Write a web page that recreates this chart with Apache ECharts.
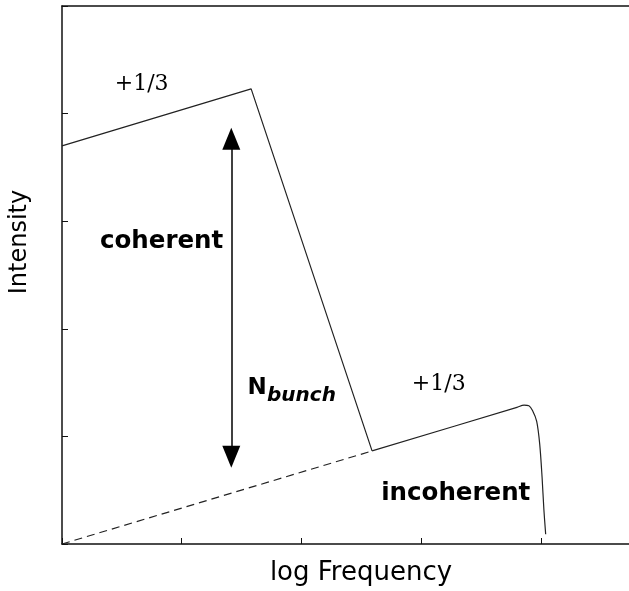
<!DOCTYPE html>
<html>
<head>
<meta charset="utf-8">
<script src="https://cdn.jsdelivr.net/npm/echarts@6/dist/echarts.min.js"></script>
<style>html,body{margin:0;padding:0;background:#fff}#c{width:629px;height:591px}</style>
</head>
<body>
<div id="c"></div>
<script>
// ---- data (x = log frequency units, y = intensity units) ----
var xMin = 0, xMax = 4.736, xStep = 1;
var yMin = 0, yMax = 5, yStep = 1;
var coherent = [[0, 3.70], [1.58, 4.23], [2.59, 0.865]];
var incoherentDashed = [[0, 0], [2.59, 0.865]];
var incoherentSolid = [[2.59, 0.865], [3.80, 1.27], [3.86, 1.29], [3.90, 1.285], [3.93, 1.24], [3.965, 1.14], [3.99, 0.93], [4.01, 0.62], [4.025, 0.32], [4.04, 0.09]];
var arrowEnds = [[1.414, 3.767], [1.414, 0.81]];
var labelsPlain = [
  {text: '+1/3', pos: [0.665, 4.27], kind: 'serif'},
  {text: '+1/3', pos: [3.147, 1.48], kind: 'serif'},
  {text: 'coherent', pos: [0.832, 2.81], kind: 'bold'},
  {text: 'incoherent', pos: [3.289, 0.465], kind: 'bold'}
];
var labelN = {text: 'N', pos: [1.63, 1.45]};
var labelSub = {text: 'bunch', pos: [2.0, 1.38]};

var chart = echarts.init(document.getElementById('c'), null, {renderer: 'canvas'});
var lineStyleThin = {color: '#222', width: 1.2};
var styles = {
  serif: {fontFamily: 'DejaVu Serif', fontSize: 22, color: '#000'},
  bold: {fontFamily: 'DejaVu Sans', fontWeight: 'bold', fontSize: 24.5, color: '#000'}
};
function textSeries(pos, label) {
  return {
    type: 'scatter', symbolSize: 0, silent: true, itemStyle: {opacity: 1},
    data: [pos],
    label: Object.assign({show: true, position: 'inside', align: 'center', verticalAlign: 'middle', opacity: 1, textBorderWidth: 0}, label)
  };
}
var texts = labelsPlain.map(function (l) {
  return textSeries(l.pos, Object.assign({formatter: l.text}, styles[l.kind]));
});
texts.push(textSeries(labelN.pos, {formatter: labelN.text, fontFamily: 'DejaVu Sans', fontWeight: 'bold', fontSize: 23, color: '#000'}));
texts.push(textSeries(labelSub.pos, {formatter: labelSub.text, fontFamily: 'DejaVu Sans', fontWeight: 'bold', fontStyle: 'italic', fontSize: 20, color: '#000'}));

chart.setOption({
  animation: false,
  backgroundColor: '#fff',
  grid: {left: 62, top: 6, bottom: 46, right: 0, show: false},
  xAxis: [{
    type: 'value', min: xMin, max: xMax, interval: xStep,
    name: 'log Frequency', nameLocation: 'middle', nameGap: 16,
    nameTextStyle: {fontFamily: 'DejaVu Sans', fontSize: 26, color: '#000', padding: [0, 0, 0, 31]},
    axisLine: {lineStyle: {color: '#111', width: 1.5}},
    axisTick: {inside: true, length: 6, lineStyle: {color: '#111', width: 1}},
    axisLabel: {show: false}, splitLine: {show: false}
  }, {
    type: 'value', position: 'top', min: xMin, max: xMax, interval: xStep,
    axisLine: {show: true, lineStyle: {color: '#111', width: 1.5}},
    axisTick: {show: false}, axisLabel: {show: false}, splitLine: {show: false}
  }],
  yAxis: {
    type: 'value', min: yMin, max: yMax, interval: yStep,
    name: 'Intensity', nameLocation: 'middle', nameGap: 30,
    nameTextStyle: {fontFamily: 'DejaVu Sans', fontSize: 24, color: '#000', padding: [0, 0, 0, 66]},
    axisLine: {lineStyle: {color: '#111', width: 1.5}},
    axisTick: {inside: true, length: 6, lineStyle: {color: '#111', width: 1}},
    axisLabel: {show: false}, splitLine: {show: false}
  },
  series: [
    {type: 'line', data: coherent, symbol: 'none', lineStyle: lineStyleThin, silent: true},
    {type: 'line', data: incoherentDashed, symbol: 'none', lineStyle: {color: '#222', width: 1.2, type: [8, 5]}, silent: true},
    {type: 'line', data: incoherentSolid, symbol: 'none', smooth: 0.3, lineStyle: lineStyleThin, silent: true},
    {type: 'line', data: [], silent: true,
      markLine: {silent: true, symbol: ['triangle', 'triangle'], symbolSize: [18, 22], label: {show: false},
        lineStyle: {color: '#000', width: 1.5, type: 'solid'},
        data: [[{coord: arrowEnds[0]}, {coord: arrowEnds[1]}]]}}
  ].concat(texts)
});
</script>
</body>
</html>
